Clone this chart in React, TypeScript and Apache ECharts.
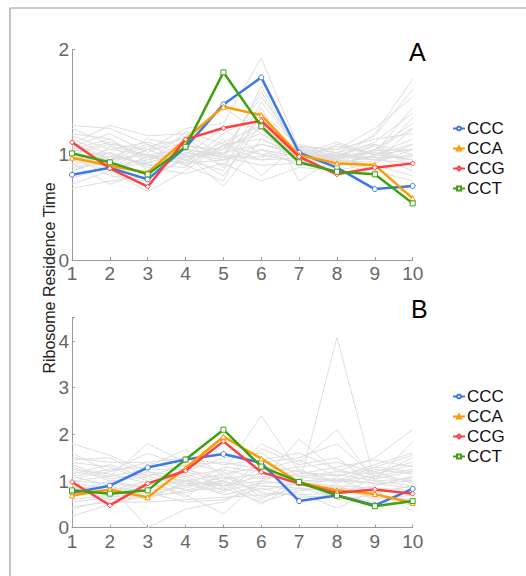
import React, { useEffect, useRef } from "react";
import * as echarts from "echarts";

const positions = ["1", "2", "3", "4", "5", "6", "7", "8", "9", "10"];
const codonNames = ["CCC", "CCA", "CCG", "CCT"];
const codonColors = ["#3f78e4", "#ff9a00", "#ff4040", "#3fa010"];
const codonSymbols = ["circle", "triangle", "diamond", "rect"];

// Panel A
const aCCC = [0.81, 0.877, 0.766, 1.07, 1.478, 1.735, 1.019, 0.877, 0.674, 0.703];
const aCCA = [0.972, 0.896, 0.829, 1.146, 1.456, 1.377, 0.997, 0.918, 0.902, 0.586];
const aCCG = [1.118, 0.871, 0.696, 1.146, 1.254, 1.323, 0.981, 0.814, 0.877, 0.918];
const aCCT = [1.013, 0.928, 0.814, 1.076, 1.783, 1.27, 0.928, 0.839, 0.814, 0.538];

const aOthers = [
  [1.05, 0.98, 0.92, 1.02, 0.95, 1.1, 1.0, 0.97, 1.02, 0.95],
  [0.95, 1.05, 1.0, 0.9, 1.08, 1.2, 0.98, 1.0, 0.95, 1.1],
  [1.2, 1.15, 0.95, 1.05, 0.9, 1.35, 1.02, 0.95, 1.05, 1.3],
  [0.88, 0.92, 1.05, 1.1, 1.0, 0.95, 0.97, 1.02, 1.1, 0.9],
  [1.28, 1.25, 1.1, 0.95, 0.85, 1.5, 1.05, 1.0, 0.98, 0.85],
  [0.68, 0.75, 0.8, 0.95, 1.05, 1.25, 0.95, 0.9, 1.0, 1.05],
  [1.1, 1.28, 1.18, 1.2, 1.0, 1.6, 1.0, 0.98, 1.12, 1.4],
  [0.95, 0.85, 0.65, 0.85, 1.1, 1.0, 0.93, 0.95, 0.9, 0.8],
  [1.0, 1.1, 1.05, 1.25, 1.3, 1.92, 1.05, 0.95, 1.2, 1.72],
  [0.92, 0.72, 0.85, 1.0, 0.7, 1.15, 0.98, 1.08, 1.0, 1.15],
  [1.15, 1.0, 0.9, 0.88, 1.15, 0.8, 1.1, 1.02, 0.95, 1.0],
  [0.85, 0.95, 1.08, 1.15, 0.95, 1.05, 0.9, 0.88, 1.05, 1.25],
  [1.02, 1.12, 0.98, 0.92, 1.2, 1.4, 1.08, 1.05, 1.25, 1.55],
  [0.78, 0.88, 0.92, 1.05, 0.98, 0.9, 0.92, 0.98, 0.85, 0.75],
  [1.18, 1.05, 1.12, 1.0, 0.8, 1.3, 0.95, 1.1, 1.0, 0.95],
  [0.98, 0.8, 0.75, 0.98, 1.02, 1.1, 1.02, 0.92, 0.98, 1.35],
  [1.08, 1.2, 1.02, 1.18, 1.45, 1.2, 1.0, 1.0, 1.08, 0.88],
  [0.9, 1.02, 0.88, 0.82, 0.92, 0.75, 0.88, 0.85, 0.92, 1.05],
  [1.12, 0.95, 1.15, 1.08, 1.05, 1.55, 1.07, 1.05, 1.15, 1.2],
  [1.0, 0.9, 0.95, 1.12, 0.88, 1.05, 0.98, 0.95, 0.8, 0.6],
  [0.82, 1.08, 1.0, 0.95, 1.12, 1.28, 0.96, 1.0, 1.02, 1.45],
  [1.25, 1.1, 0.85, 1.02, 0.98, 0.98, 1.04, 0.9, 1.1, 1.0],
  [0.95, 0.98, 1.1, 0.9, 0.75, 1.45, 0.75, 0.98, 0.95, 0.92],
  [1.05, 1.15, 0.92, 1.22, 1.1, 1.15, 1.0, 1.12, 1.0, 1.1],
  [0.72, 0.85, 0.98, 1.0, 1.25, 1.0, 1.06, 1.02, 1.18, 1.62],
  [1.02, 0.95, 1.0, 1.05, 1.0, 1.35, 0.99, 0.96, 1.04, 1.05],
  [0.97, 1.02, 0.9, 0.98, 1.08, 0.95, 1.03, 0.99, 0.97, 0.98],
  [1.14, 0.88, 1.05, 0.92, 0.95, 1.65, 1.01, 0.94, 0.93, 1.25],
];

// Panel B
const bCCC = [0.746, 0.9, 1.29, 1.46, 1.58, 1.39, 0.57, 0.69, 0.48, 0.83];
const bCCA = [0.69, 0.82, 0.65, 1.28, 1.95, 1.48, 0.97, 0.8, 0.72, 0.53];
const bCCG = [0.98, 0.48, 0.945, 1.22, 1.85, 1.19, 0.945, 0.746, 0.82, 0.73];
const bCCT = [0.8, 0.73, 0.8, 1.46, 2.1, 1.31, 0.98, 0.69, 0.46, 0.57];

const bOthers = [
  [1.0, 0.95, 0.85, 1.0, 0.9, 1.1, 1.0, 1.05, 0.95, 1.0],
  [1.8, 1.55, 1.2, 1.1, 0.8, 1.3, 1.2, 1.0, 1.1, 1.5],
  [0.25, 0.5, 0.7, 0.9, 1.0, 0.8, 0.95, 0.9, 0.85, 0.8],
  [1.2, 1.1, 1.8, 1.4, 1.2, 2.4, 1.2, 1.1, 1.3, 1.2],
  [0.8, 0.9, 0.0, 0.4, 0.55, 1.0, 0.9, 4.08, 1.0, 0.9],
  [1.4, 1.3, 1.0, 0.7, 0.3, 1.0, 1.9, 1.2, 1.5, 2.1],
  [0.6, 0.7, 0.9, 1.2, 1.0, 1.8, 1.4, 2.1, 1.0, 1.85],
  [1.1, 1.25, 1.3, 1.68, 1.1, 0.9, 0.85, 0.8, 1.2, 1.4],
  [0.9, 0.6, 0.7, 0.75, 0.95, 0.5, 1.0, 0.6, 0.7, 0.6],
  [1.3, 1.0, 1.1, 0.9, 1.3, 1.2, 1.3, 1.4, 1.2, 0.95],
  [0.7, 0.8, 0.6, 1.0, 0.7, 0.9, 0.8, 0.9, 0.6, 0.7],
  [1.5, 1.4, 1.4, 1.2, 1.5, 1.6, 1.1, 1.0, 1.3, 1.55],
  [0.45, 0.55, 0.55, 0.6, 0.65, 0.7, 0.75, 0.42, 0.8, 0.35],
  [1.05, 1.2, 1.6, 1.3, 0.85, 1.4, 1.5, 1.8, 1.1, 1.25],
  [0.95, 0.85, 0.8, 0.85, 1.1, 0.75, 0.7, 0.75, 0.9, 1.1],
  [1.25, 1.15, 0.95, 1.1, 1.25, 1.05, 1.15, 1.3, 1.45, 1.3],
  [0.65, 0.95, 1.2, 0.95, 0.75, 1.2, 0.95, 0.85, 0.8, 0.75],
  [1.15, 1.35, 1.05, 0.8, 1.0, 0.6, 1.05, 1.15, 1.0, 1.05],
  [0.85, 0.75, 0.95, 1.15, 0.9, 1.0, 1.25, 0.95, 1.25, 1.15],
  [1.35, 1.05, 1.15, 1.0, 1.15, 1.3, 0.9, 1.05, 0.75, 0.9],
  [0.55, 0.65, 0.75, 0.55, 0.6, 0.85, 0.65, 0.7, 0.55, 0.5],
  [1.0, 1.1, 1.25, 1.25, 1.05, 1.15, 1.1, 1.2, 1.15, 1.35],
  [0.75, 1.0, 0.85, 1.05, 0.8, 0.95, 1.0, 1.0, 0.95, 0.85],
  [1.6, 1.2, 1.4, 1.5, 1.35, 1.45, 1.6, 1.25, 1.05, 1.2],
  [0.9, 0.8, 1.0, 0.65, 1.2, 0.65, 0.85, 0.65, 1.1, 1.0],
  [1.1, 0.9, 0.65, 0.95, 0.95, 1.7, 1.35, 1.5, 0.9, 1.1],
  [0.4, 0.6, 0.65, 0.8, 0.85, 0.55, 0.8, 0.85, 0.65, 0.6],
  [1.45, 1.5, 1.1, 1.35, 1.4, 1.25, 1.45, 1.1, 1.35, 1.6],
];

const panelA = [aCCC, aCCA, aCCG, aCCT];
const panelB = [bCCC, bCCA, bCCG, bCCT];

const FONT = "'Liberation Sans', Arial, Helvetica, sans-serif";

export default function App() {
  const ref = useRef<HTMLDivElement>(null);
  useEffect(() => {
    document.body.style.margin = "0";
    if (!ref.current) return;
    const chart = echarts.init(ref.current, undefined, { renderer: "svg" });

    const axisCommon = {
      axisLine: { show: true, lineStyle: { color: "#9a9a9a", width: 1 } },
      axisTick: { show: true, inside: true, length: 3, lineStyle: { color: "#9a9a9a" } },
      splitLine: { show: false },
    };
    const xAxisFor = (gi: number) => ({
      type: "category",
      gridIndex: gi,
      data: positions,
      boundaryGap: false,
      ...axisCommon,
      axisTick: { ...axisCommon.axisTick, alignWithLabel: true },
      axisLabel: { color: "#666", fontSize: 19, fontFamily: FONT, margin: 4, interval: 0 },
    });
    const yAxisFor = (gi: number, max: number) => ({
      type: "value",
      gridIndex: gi,
      min: 0,
      max,
      interval: 1,
      ...axisCommon,
      axisLabel: {
        color: "#666",
        fontSize: 19,
        fontFamily: FONT,
        margin: 3,
        formatter: (v: number) => (Number.isInteger(v) ? String(v) : ""),
      },
    });

    const series: any[] = [];
    const addPanel = (gi: number, others: number[][], main: number[][]) => {
      others.forEach((d, i) => {
        series.push({
          name: "other" + gi + "_" + i,
          type: "line",
          xAxisIndex: gi,
          yAxisIndex: gi,
          data: d,
          symbol: "none",
          silent: true,
          z: 1,
          lineStyle: { color: "#dddddd", width: 1 },
        });
      });
      main.forEach((d, i) => {
        series.push({
          name: codonNames[i],
          type: "line",
          xAxisIndex: gi,
          yAxisIndex: gi,
          data: d,
          symbol: codonSymbols[i],
          symbolSize: 5,
          showSymbol: true,
          z: 3 + i,
          itemStyle: { color: "#ffffff", borderColor: codonColors[i], borderWidth: 1 },
          lineStyle: { color: codonColors[i], width: 2.5 },
          color: codonColors[i],
        });
      });
    };
    addPanel(0, aOthers, panelA);
    addPanel(1, bOthers, panelB);

    const legendFor = (top: number) => ({
      orient: "vertical",
      left: 447,
      top,
      data: codonNames,
      itemWidth: 12,
      itemHeight: 5,
      itemGap: 3,
      selectedMode: false,
      textStyle: { color: "#111", fontSize: 17, fontFamily: FONT, lineHeight: 17, padding: [0, 0, 0, -3] },
    });

    chart.setOption({
      animation: false,
      backgroundColor: "#ffffff",
      grid: [
        { left: 72, top: 49.5, width: 340.7, height: 210.5 },
        { left: 72, top: 317.7, width: 340.7, height: 210 },
      ],
      xAxis: [xAxisFor(0), xAxisFor(1)],
      yAxis: [yAxisFor(0, 2), yAxisFor(1, 4.5)],
      legend: [legendFor(115), legendFor(383)],
      series,
      graphic: [
        { type: "line", shape: { x1: 10, y1: 8, x2: 526, y2: 8 }, style: { stroke: "#999", lineWidth: 1.2 } },
        { type: "line", shape: { x1: 10, y1: 8, x2: 10, y2: 576 }, style: { stroke: "#999", lineWidth: 1.2 } },
        {
          type: "text",
          x: 409,
          y: 52,
          style: { text: "A", fontSize: 25, fontFamily: FONT, fill: "#000", verticalAlign: "middle" },
        },
        {
          type: "text",
          x: 411,
          y: 309,
          style: { text: "B", fontSize: 25, fontFamily: FONT, fill: "#000", verticalAlign: "middle" },
        },
        {
          type: "text",
          x: 49,
          y: 278,
          rotation: Math.PI / 2,
          style: {
            text: "Ribosome Residence Time",
            fontSize: 16,
            fontFamily: FONT,
            fill: "#222",
            align: "center",
            verticalAlign: "middle",
          },
        },
      ],
    });
    return () => chart.dispose();
  }, []);
  return <div ref={ref} style={{ width: 526, height: 576 }} />;
}
